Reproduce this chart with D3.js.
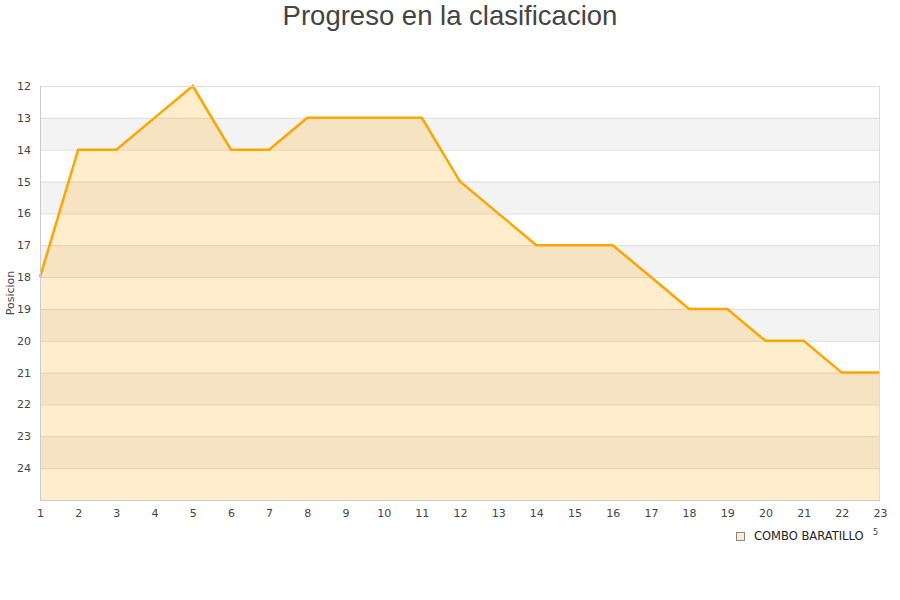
<!DOCTYPE html>
<html><head><meta charset="utf-8">
<script src="https://cdn.jsdelivr.net/npm/d3@7"></script>
<style>body{margin:0;background:#fff;font-family:"DejaVu Sans",sans-serif;}</style>
</head><body>
<svg id="c" width="900" height="600"></svg>
<script>
const jornadas = [1,2,3,4,5,6,7,8,9,10,11,12,13,14,15,16,17,18,19,20,21,22,23];
const posiciones = [18,14,14,13,12,14,14,13,13,13,13,15,16,17,17,17,18,19,19,20,20,21,21];
const yTicks = [12,13,14,15,16,17,18,19,20,21,22,23,24];
const serieNombre = "COMBO BARATILLO";
const titulo = "Progreso en la clasificacion";
const yTitulo = "Posicion";

const svg = d3.select("#c");
const L = 40, R = 880, T = 86, B = 500;
const x = d3.scaleLinear().domain([1,23]).range([L,R]);
const y = d3.scaleLinear().domain([12,25]).range([T,B]);

const bands = d3.range(12,25);
svg.selectAll("rect.band").data(bands).enter().append("rect")
  .attr("x",L).attr("width",R-L)
  .attr("y",d=>y(d)).attr("height",d=>y(d+1)-y(d))
  .attr("fill",d=>(d-12)%2===1?"#f3f3f3":"#ffffff");
svg.selectAll("line.g").data(d3.range(13,25)).enter().append("line")
  .attr("x1",L).attr("x2",R).attr("y1",d=>y(d)+0.5).attr("y2",d=>y(d)+0.5)
  .attr("stroke","#dddddd").attr("stroke-width",1);

const area = d3.area().x((d,i)=>x(jornadas[i])).y0(y(25)).y1(d=>y(d));
svg.append("path").datum(posiciones).attr("d",area)
  .attr("fill","rgb(255,165,0)").attr("fill-opacity",0.2);
const line = d3.line().x((d,i)=>x(jornadas[i])).y(d=>y(d));
svg.append("path").datum(posiciones).attr("d",line)
  .attr("fill","none").attr("stroke","#ffa500").attr("stroke-width",2.5);

svg.append("rect").attr("x",L+0.5).attr("y",T+0.5).attr("width",R-L-1).attr("height",B-T)
  .attr("fill","none").attr("stroke","#dddddd");
svg.append("line").attr("x1",L+0.5).attr("x2",L+0.5).attr("y1",T).attr("y2",B+1).attr("stroke","#cccccc");
svg.append("line").attr("x1",L).attr("x2",R).attr("y1",B+0.5).attr("y2",B+0.5).attr("stroke","#cccccc");

const yAxis = d3.axisLeft(y).tickValues(yTicks).tickSize(0).tickPadding(9);
const gy = svg.append("g").attr("transform",`translate(${L},0)`).call(yAxis);
gy.select(".domain").remove();
gy.selectAll("text").attr("font-size",11).attr("fill","#444").attr("font-family","DejaVu Sans, sans-serif");

const xAxis = d3.axisBottom(x).tickValues(jornadas).tickFormat(d3.format("d")).tickSize(0).tickPadding(9);
const gx = svg.append("g").attr("transform",`translate(0,${B})`).call(xAxis);
gx.select(".domain").remove();
gx.selectAll("text").attr("font-size",11).attr("fill","#444").attr("font-family","DejaVu Sans, sans-serif");

svg.append("text").attr("x",450).attr("y",25).attr("text-anchor","middle")
  .attr("font-size",27.5).attr("fill","#444").attr("font-family","Liberation Sans, Arial, sans-serif").text(titulo);
svg.append("text").attr("transform","translate(14,293) rotate(-90)").attr("text-anchor","middle")
  .attr("font-size",11).attr("fill","#444").attr("font-family","DejaVu Sans, sans-serif").text(yTitulo);

svg.append("rect").attr("x",736.5).attr("y",532.5).attr("width",8).attr("height",8)
  .attr("fill","#feecc9").attr("stroke","#888");
svg.append("text").attr("x",754).attr("y",540).attr("font-size",11.5).attr("fill","#222")
  .attr("font-family","DejaVu Sans, sans-serif").text(serieNombre);
svg.append("text").attr("x",873).attr("y",535).attr("font-size",8).attr("fill","#444")
  .attr("font-family","DejaVu Sans, sans-serif").text("5");
</script>
</body></html>
